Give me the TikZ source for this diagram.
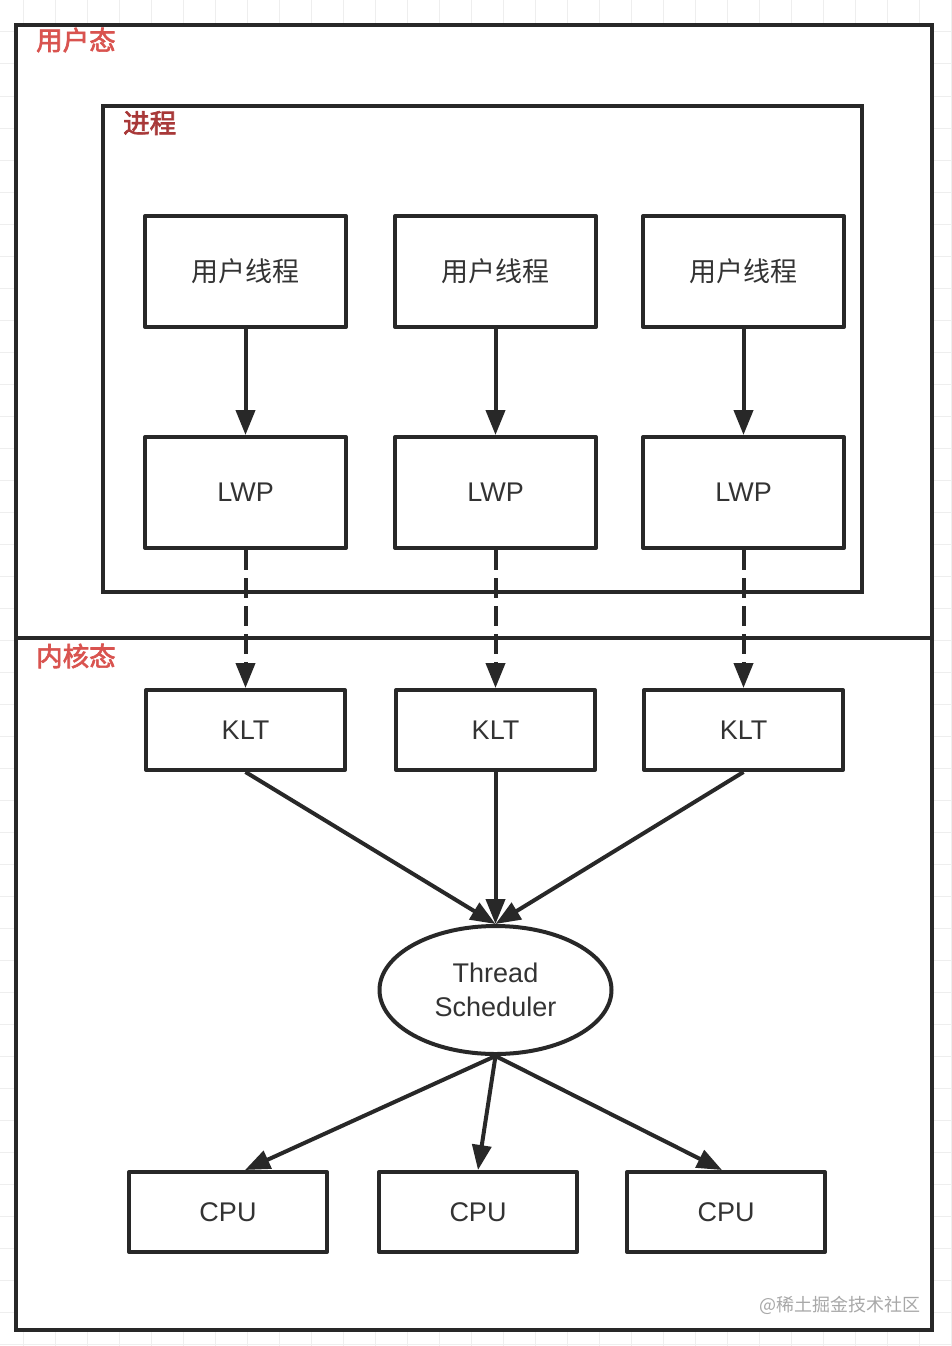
\documentclass[tikz,border=0pt]{standalone}
\usepackage{fontspec}
\setmainfont{Liberation Sans}
\newfontfamily\cjk{Noto Sans CJK SC}
\newfontfamily\cjkm[FakeBold=2.5]{Noto Sans CJK SC}
\usetikzlibrary{arrows.meta,shapes.geometric,calc}
\definecolor{linec}{HTML}{282828}
\definecolor{textc}{HTML}{333333}
\definecolor{redlab}{HTML}{D9534F}
\definecolor{darkred}{HTML}{A83838}
\definecolor{gridc}{HTML}{EEEEEE}
\definecolor{wmark}{HTML}{A8A8A8}
\tikzset{
  frame/.style={draw=linec, line width=4pt},
  boxbase/.style={draw=linec, line width=4pt, line join=round, inner sep=0pt, fill=white, text=textc, font=\fontsize{27}{34}\selectfont, align=center},
  tallbox/.style={boxbase, minimum width=201pt, minimum height=111pt},
  kltbox/.style={boxbase, minimum width=199pt, minimum height=80pt},
  cpubox/.style={boxbase, minimum width=198pt, minimum height=80pt},
  schedbox/.style={boxbase, ellipse, minimum width=232pt, minimum height=128pt},
  zone/.style={anchor=west, inner sep=0pt, font=\cjkm\fontsize{26.5}{30}\selectfont},
  arr/.style={draw=linec, line width=4pt, -{Triangle[length=25pt,width=19pt]}},
  darr/.style={arr, dash pattern=on 20pt off 8pt},
}
\begin{document}
\begin{tikzpicture}[x=1pt,y=-1pt]
\useasboundingbox (0,0) rectangle (952,1346);
\fill[white] (0,0) rectangle (952,1346);
\foreach \x in {23,55,...,951} \draw[gridc, line width=1pt] (\x,0) -- (\x,1346);
\foreach \y in {32,64,...,1346} \draw[gridc, line width=1pt] (0,\y) -- (952,\y);
% outer frame
\draw[frame, fill=white] (16,25) rectangle (932,1330);
\draw[frame] (16,638) -- (932,638);
% process box
\draw[frame] (103,106) rectangle (862,592);
% labels
\node[zone, text=redlab] (lu) at (36,40) {用户态};
\node[zone, text=darkred] (lp) at (123,123) {进程};
\node[zone, text=redlab] (lk) at (36,656) {内核态};
% user threads
\node[tallbox] (ut1) at (245.5,271.5) {\cjk 用户线程};
\node[tallbox] (ut2) at (495.5,271.5) {\cjk 用户线程};
\node[tallbox] (ut3) at (743.5,271.5) {\cjk 用户线程};
% LWP
\node[tallbox] (lwp1) at (245.5,492.5) {LWP};
\node[tallbox] (lwp2) at (495.5,492.5) {LWP};
\node[tallbox] (lwp3) at (743.5,492.5) {LWP};
% KLT
\node[kltbox] (klt1) at (245.5,730) {KLT};
\node[kltbox] (klt2) at (495.5,730) {KLT};
\node[kltbox] (klt3) at (743.5,730) {KLT};
% scheduler
\node[schedbox] (sched) at (495.5,990) {Thread\\Scheduler};
% CPUs
\node[cpubox] (cpu1) at (228,1212) {CPU};
\node[cpubox] (cpu2) at (478,1212) {CPU};
\node[cpubox] (cpu3) at (726,1212) {CPU};
% arrows
\draw[arr] (ut1) -- (lwp1);
\draw[arr] (ut2) -- (lwp2);
\draw[arr] (ut3) -- (lwp3);
\draw[darr] (lwp1) -- (klt1);
\draw[darr] (lwp2) -- (klt2);
\draw[darr] (lwp3) -- (klt3);
\draw[arr] (klt1.south) -- (sched.north);
\draw[arr] (klt2.south) -- (sched.north);
\draw[arr] (klt3.south) -- (sched.north);
\draw[arr] (sched.south) -- ([xshift=17pt]cpu1.north);
\draw[arr] (sched.south) -- (cpu2.north);
\draw[arr] (sched.south) -- ([xshift=-4pt]cpu3.north);
% watermark
\node[anchor=east, inner sep=0pt, text=wmark, font=\cjk\fontsize{18}{20}\selectfont] (wm) at (921,1305) {@稀土掘金技术社区};
\end{tikzpicture}
\end{document}
